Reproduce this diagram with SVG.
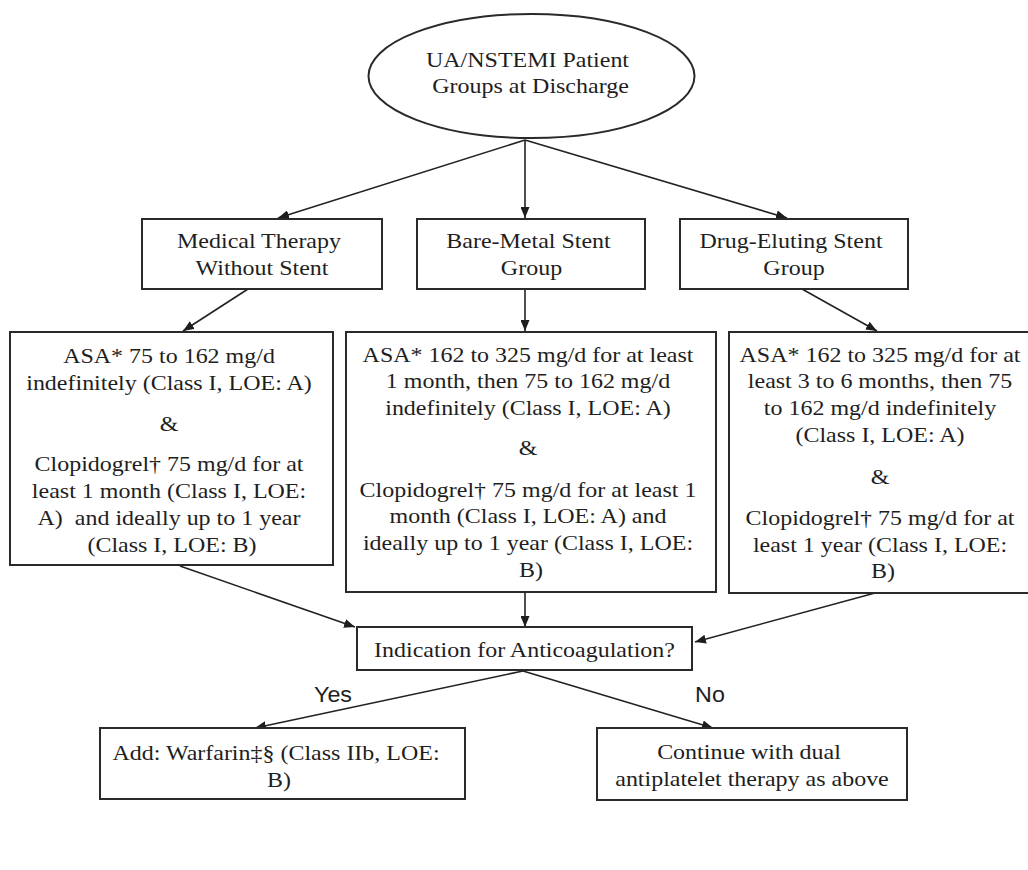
<svg xmlns="http://www.w3.org/2000/svg" width="1028" height="870" viewBox="0 0 1028 870">
  <style>
    .box { fill: #ffffff; stroke: #2a2a2a; stroke-width: 2; }
    .lbl { font-family: "Liberation Serif", "Times New Roman", serif; font-size: 22px; fill: #1e1e1e; text-anchor: middle; }
    .yn { font-family: "Liberation Sans", Arial, sans-serif; font-size: 22px; fill: #1e1e1e; text-anchor: middle; }
    .edge { stroke: #222222; stroke-width: 1.6; fill: none; marker-end: url(#arrow); }
  </style>
  <defs>
    <marker id="arrow" markerUnits="userSpaceOnUse" markerWidth="11" markerHeight="9" refX="11" refY="4.5" orient="auto">
      <path d="M0,0 L11,4.5 L0,9 z" fill="#1e1e1e"/>
    </marker>
  </defs>

  <rect x="0" y="0" width="1028" height="870" fill="#ffffff"/>

  <!-- connectors -->
  <g id="connectors">
    <line class="edge" x1="525" y1="140" x2="278" y2="218"/>
    <line class="edge" x1="525" y1="140" x2="525" y2="218"/>
    <line class="edge" x1="525" y1="140" x2="787" y2="218"/>
    <line class="edge" x1="248" y1="289" x2="183" y2="331"/>
    <line class="edge" x1="525" y1="289" x2="525" y2="331"/>
    <line class="edge" x1="802" y1="289" x2="877" y2="331"/>
    <line class="edge" x1="180" y1="566" x2="355" y2="627"/>
    <line class="edge" x1="525" y1="593" x2="525" y2="627"/>
    <line class="edge" x1="875" y1="593" x2="695" y2="642"/>
    <line class="edge" x1="523" y1="671" x2="255" y2="728"/>
    <line class="edge" x1="523" y1="671" x2="713" y2="728"/>
  </g>

  <!-- start node -->
  <g id="start">
    <ellipse class="box" cx="531.5" cy="76" rx="163" ry="62"/>
    <text class="lbl" transform="translate(530.5 0) scale(1.09 1)">
      <tspan x="0" y="67.5">UA/NSTEMI Patient</tspan>
      <tspan x="0" y="93.5">Groups at Discharge</tspan>
    </text>
  </g>

  <!-- patient groups -->
  <g id="medical">
    <rect class="box" x="142" y="219" width="240" height="70"/>
    <text class="lbl" transform="translate(262 0) scale(1.09 1)">
      <tspan x="0" y="248">Medical Therapy</tspan>
      <tspan x="0" y="275">Without Stent</tspan>
    </text>
  </g>
  <g id="bms">
    <rect class="box" x="417" y="219" width="228" height="70"/>
    <text class="lbl" transform="translate(531.5 0) scale(1.09 1)">
      <tspan x="0" y="248">Bare-Metal Stent</tspan>
      <tspan x="0" y="275">Group</tspan>
    </text>
  </g>
  <g id="des">
    <rect class="box" x="680" y="219" width="228" height="70"/>
    <text class="lbl" transform="translate(794 0) scale(1.09 1)">
      <tspan x="0" y="248">Drug-Eluting Stent</tspan>
      <tspan x="0" y="275">Group</tspan>
    </text>
  </g>

  <!-- antiplatelet regimens -->
  <g id="medical-regimen">
    <rect class="box" x="10" y="332" width="323" height="233"/>
    <text class="lbl" transform="translate(172 0) scale(1.09 1)">
      <tspan x="0" y="363">ASA* 75 to 162 mg/d</tspan>
      <tspan x="0" y="390">indefinitely (Class I, LOE: A)</tspan>
      <tspan x="0" y="431">&amp;</tspan>
      <tspan x="0" y="471">Clopidogrel† 75 mg/d for at</tspan>
      <tspan x="0" y="498">least 1 month (Class I, LOE:</tspan>
      <tspan x="0" y="525">A)&#160; and ideally up to 1 year</tspan>
      <tspan x="0" y="552">(Class I, LOE: B)</tspan>
    </text>
  </g>
  <g id="bms-regimen">
    <rect class="box" x="346" y="332" width="370" height="260"/>
    <text class="lbl" transform="translate(531 0) scale(1.09 1)">
      <tspan x="0" y="362">ASA* 162 to 325 mg/d for at least</tspan>
      <tspan x="0" y="388.5">1 month, then 75 to 162 mg/d</tspan>
      <tspan x="0" y="415">indefinitely (Class I, LOE: A)</tspan>
      <tspan x="0" y="455.5">&amp;</tspan>
      <tspan x="0" y="497">Clopidogrel† 75 mg/d for at least 1</tspan>
      <tspan x="0" y="523.5">month (Class I, LOE: A) and</tspan>
      <tspan x="0" y="550">ideally up to 1 year (Class I, LOE:</tspan>
      <tspan x="0" y="577">B)</tspan>
    </text>
  </g>
  <g id="des-regimen">
    <rect class="box" x="729" y="332" width="312" height="261"/>
    <text class="lbl" transform="translate(883 0) scale(1.09 1)">
      <tspan x="0" y="362">ASA* 162 to 325 mg/d for at</tspan>
      <tspan x="0" y="388.5">least 3 to 6 months, then 75</tspan>
      <tspan x="0" y="415">to 162 mg/d indefinitely</tspan>
      <tspan x="0" y="442">(Class I, LOE: A)</tspan>
      <tspan x="0" y="484">&amp;</tspan>
      <tspan x="0" y="525">Clopidogrel† 75 mg/d for at</tspan>
      <tspan x="0" y="552">least 1 year (Class I, LOE:</tspan>
      <tspan x="0" y="578">B)</tspan>
    </text>
  </g>

  <!-- decision -->
  <g id="anticoagulation">
    <rect class="box" x="357" y="627" width="335" height="43"/>
    <text class="lbl" transform="translate(524.5 0) scale(1.09 1)">
      <tspan x="0" y="657">Indication for Anticoagulation?</tspan>
    </text>
  </g>
  <g id="branch-labels">
    <text class="yn" transform="translate(333 0) scale(1.06 1)" x="0" y="702">Yes</text>
    <text class="yn" transform="translate(710 0) scale(1.06 1)" x="0" y="702">No</text>
  </g>

  <!-- outcomes -->
  <g id="warfarin">
    <rect class="box" x="100" y="728" width="365" height="71"/>
    <text class="lbl" transform="translate(279 0) scale(1.09 1)">
      <tspan x="0" y="760">Add: Warfarin‡§ (Class IIb, LOE:</tspan>
      <tspan x="0" y="787">B)</tspan>
    </text>
  </g>
  <g id="dual-therapy">
    <rect class="box" x="597" y="728" width="310" height="72"/>
    <text class="lbl" transform="translate(752 0) scale(1.09 1)">
      <tspan x="0" y="759">Continue with dual</tspan>
      <tspan x="0" y="786">antiplatelet therapy as above</tspan>
    </text>
  </g>
</svg>
